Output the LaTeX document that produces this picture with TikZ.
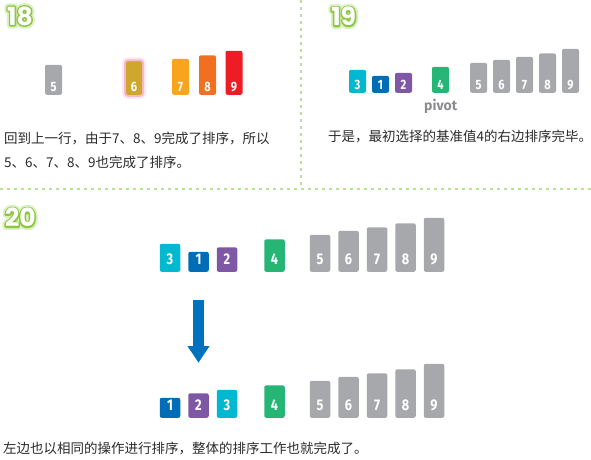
\documentclass[tikz,border=0pt]{standalone}
\usepackage{fontspec}
\usepackage{xcolor}
\usepackage{tikz}
\usetikzlibrary{arrows.meta}
\newfontfamily\cjk{Noto Sans CJK SC}
\newfontfamily\numfont[FakeStretch=0.82]{Fira Sans Bold}
\newfontfamily\pivfont{Fira Sans Bold}
\newfontfamily\titlefont{Poppins}
\definecolor{cardgray}{HTML}{A7A8AC}
\definecolor{cardgold}{HTML}{CFA72E}
\definecolor{cardamber}{HTML}{F8A51D}
\definecolor{cardorange}{HTML}{F26F22}
\definecolor{cardred}{HTML}{EE1C25}
\definecolor{cardcyan}{HTML}{00B8CF}
\definecolor{cardblue}{HTML}{006DB6}
\definecolor{cardpurple}{HTML}{7F58A5}
\definecolor{cardgreen}{HTML}{25B574}
\definecolor{arrowblue}{HTML}{0071BC}
\definecolor{lineg}{HTML}{BBE09A}
\definecolor{titleg}{HTML}{8DC63F}
\definecolor{glowg}{HTML}{DDF1C6}
\definecolor{glowpink}{HTML}{F7B8D2}
\definecolor{pivotgray}{HTML}{8B8C90}
\definecolor{txt}{HTML}{2B2B2B}
% outlined step numbers
\newcommand{\strokedtext}[2]{\special{pdf:literal direct 1 J 1 j 2 Tr #1 w}#2\special{pdf:literal direct 0 Tr}}
\newcommand{\stepnum}[1]{\rlap{\color{glowg}\strokedtext{7}{#1}}\rlap{\color{titleg}\strokedtext{3}{#1}}#1}

\begin{document}
\begin{tikzpicture}[x=1pt,y=-1pt]
\tikzstyle{card}=[fill=#1, rounded corners=2pt, inner sep=0pt, minimum width=17pt, anchor=south]
\tikzstyle{bigcard}=[card=#1, minimum width=20.5pt]
\tikzstyle{digit}=[text=white, inner sep=0pt, anchor=base, yshift=3.3pt, font=\numfont\fontsize{13.5}{13.5}\selectfont]
\tikzstyle{bigdigit}=[digit, yshift=4.5pt, font=\numfont\fontsize{15.5}{15.5}\selectfont]
\tikzstyle{glow}=[preaction={draw=glowpink!60, line width=8pt, opacity=.5}, preaction={draw=glowpink, line width=4pt}]
\tikzstyle{desc}=[anchor=west, inner sep=0pt, text=txt, font=\cjk\fontsize{13.5}{13.5}\selectfont]
\tikzstyle{steptitle}=[inner sep=0pt, text=white, font=\titlefont\bfseries\fontsize{25}{25}\selectfont]
\tikzstyle{sepline}=[draw=lineg, line width=1.8pt, dash pattern=on 3pt off 4pt]
\tikzstyle{bigarrow}=[draw=arrowblue, line width=11.5pt, -{Triangle[length=16.7pt, width=21pt]}]
\useasboundingbox (0,0) rectangle (591,459);

% separators
\draw[sepline] (0,189) -- (591,189);
\draw[sepline] (301.3,0) -- (301.3,187);

% step 18
\node[steptitle] (t18) at (20,16) {\stepnum{18}};
\foreach \n/\x/\h/\c in {5/53.5/30/cardgray, 7/180.5/36/cardamber, 8/207.5/39.5/cardorange, 9/234/44/cardred}
  \node[card=\c, minimum height=\h, label={[digit]south:\n}] (a\n) at (\x,95) {};
\node[card=cardgold, glow, minimum width=16pt, minimum height=33.5, label={[digit]south:6}] (a6) at (134,95) {};
\node[desc] (s18a) at (4,138) {回到上一行，由于7、8、9完成了排序，所以};
\node[desc] (s18b) at (4,162) {5、6、7、8、9也完成了排序。};

% step 19
\node[steptitle] (t19) at (343.7,16.5) {\stepnum{19}};
\foreach \n/\x/\h/\c in {3/357.5/23/cardcyan, 1/380.5/17/cardblue, 2/403.5/20/cardpurple, 4/440.5/26/cardgreen,
  5/478.5/30/cardgray, 6/501.5/33/cardgray, 7/524.5/36/cardgray, 8/547.5/39.5/cardgray, 9/570.5/44/cardgray}
  \node[card=\c, minimum height=\h, label={[digit]south:\n}] (b\n) at (\x,93) {};
\node[anchor=base, inner sep=0pt, text=pivotgray, font=\pivfont\fontsize{14}{14}\selectfont] (piv) at (440.7,110) {pivot};
\node[desc] (s19) at (328,136.7) {于是，最初选择的基准值4的右边排序完毕。};

% step 20
\node[steptitle] (t20) at (20.3,217.5) {\stepnum{20}};
\foreach \n/\x/\h/\c in {3/170/28/cardcyan, 1/198.5/20/cardblue, 2/227/24.5/cardpurple, 4/274.5/32.5/cardgreen,
  5/320/37/cardgray, 6/348.5/41/cardgray, 7/377/44.5/cardgray, 8/405.5/48.5/cardgray, 9/434/54/cardgray}
  \node[bigcard=\c, minimum height=\h, label={[bigdigit]south:\n}] (c\n) at (\x,272) {};
\foreach \n/\x/\h/\c in {1/170/20/cardblue, 2/198.5/24.5/cardpurple, 3/227/28/cardcyan, 4/274.5/32.5/cardgreen,
  5/320/37/cardgray, 6/348.5/41/cardgray, 7/377/44.5/cardgray, 8/405.5/48.5/cardgray, 9/434/54/cardgray}
  \node[bigcard=\c, minimum height=\h, label={[bigdigit]south:\n}] (d\n) at (\x,418) {};
\coordinate (arrtop) at (198.5,300);
\coordinate (arrtip) at (198.5,362.7);
\draw[bigarrow] (arrtop) -- (arrtip);
\node[desc] (s20) at (3,448) {左边也以相同的操作进行排序，整体的排序工作也就完成了。};

\end{tikzpicture}
\end{document}
